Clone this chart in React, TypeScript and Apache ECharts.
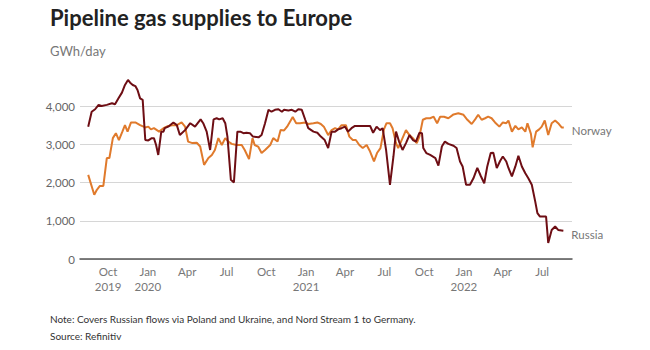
import React, { useEffect, useRef } from "react";
import * as echarts from "echarts";

const russiaDates = [
  "2019-08-16","2019-08-24","2019-09-01","2019-09-09","2019-09-16","2019-09-28","2019-10-10","2019-10-17","2019-10-25","2019-11-02",
  "2019-11-09","2019-11-16","2019-11-21","2019-11-27","2019-12-03","2019-12-08","2019-12-14","2019-12-20","2019-12-26","2020-01-02",
  "2020-01-10","2020-01-15","2020-01-20","2020-01-25","2020-02-01","2020-02-06","2020-02-09","2020-02-17","2020-02-29","2020-03-08",
  "2020-03-15","2020-03-27","2020-04-08","2020-04-19","2020-05-02","2020-05-08","2020-05-16","2020-05-24","2020-06-01","2020-06-08",
  "2020-06-14","2020-06-22","2020-06-28","2020-07-03","2020-07-11","2020-07-18","2020-07-26","2020-08-02","2020-08-09","2020-08-16",
  "2020-08-24","2020-08-31","2020-09-13","2020-09-20","2020-09-28","2020-10-06","2020-10-13","2020-10-21","2020-10-29","2020-11-06",
  "2020-11-11","2020-11-21","2020-11-29","2020-12-07","2020-12-14","2020-12-22","2020-12-30","2021-01-06","2021-01-18","2021-01-27",
  "2021-02-04","2021-02-13","2021-02-21","2021-03-01","2021-03-09","2021-03-16","2021-03-24","2021-04-01","2021-04-08","2021-04-16",
  "2021-04-24","2021-05-05","2021-05-17","2021-05-29","2021-06-05","2021-06-13","2021-06-21","2021-06-27","2021-07-05","2021-07-14",
  "2021-07-22","2021-07-28","2021-08-04","2021-08-12","2021-08-20","2021-08-28","2021-09-05","2021-09-12","2021-09-20","2021-09-26",
  "2021-09-29","2021-10-06","2021-10-15","2021-10-27","2021-11-03","2021-11-11","2021-11-18","2021-11-26","2021-12-08","2021-12-15",
  "2021-12-23","2021-12-29","2022-01-06","2022-01-15","2022-01-23","2022-02-01","2022-02-09","2022-02-17","2022-02-24","2022-03-04",
  "2022-03-10","2022-03-18","2022-03-26","2022-04-01","2022-04-09","2022-04-14","2022-04-22","2022-04-30","2022-05-07","2022-05-15",
  "2022-05-23","2022-05-30","2022-06-07","2022-06-15","2022-06-20","2022-06-26","2022-07-04","2022-07-10","2022-07-15","2022-07-23",
  "2022-07-31","2022-08-07","2022-08-19"
];
const russiaValues = [
  3460,3850,3915,4030,4000,4030,4070,4045,4200,4350,
  4550,4680,4610,4550,4520,4420,4200,4160,3110,3100,
  3160,3160,2980,2720,3330,3330,3420,3460,3570,3500,
  3240,3370,3550,3460,3650,3550,3330,2850,3650,3680,
  3650,3680,3550,3200,2070,2000,3330,3330,3290,3300,
  3290,3200,3180,3240,3550,3900,3850,3900,3915,3850,
  3900,3880,3900,3850,3915,3900,3640,3420,3330,3300,
  3200,3110,2900,3330,3330,3390,3420,3460,3330,3420,
  3480,3480,3480,3480,3300,3460,3370,3420,2850,1940,
  2680,3330,3070,2850,3030,3240,3110,3070,3300,3290,
  2900,2770,2720,2640,2440,2940,3070,3010,2960,2900,
  2550,2420,1940,1940,2110,2380,2170,1980,2420,2770,
  2780,2380,2570,2680,2550,2380,2160,2420,2700,2420,
  2240,2110,1940,1500,1200,1110,1110,1110,420,760,
  850,760,740
];

const norwayDates = [
  "2019-08-16","2019-08-30","2019-09-05","2019-09-12","2019-09-20","2019-09-28","2019-10-04","2019-10-12","2019-10-19","2019-10-26",
  "2019-11-03","2019-11-09","2019-11-15","2019-11-23","2019-12-03","2019-12-14","2019-12-26","2020-01-02","2020-01-08","2020-01-15",
  "2020-01-27","2020-02-06","2020-02-17","2020-02-29","2020-03-08","2020-03-19","2020-03-27","2020-04-03","2020-04-13","2020-04-23",
  "2020-05-01","2020-05-10","2020-05-20","2020-05-28","2020-06-04","2020-06-12","2020-06-20","2020-06-28","2020-07-05","2020-07-13",
  "2020-07-24","2020-08-05","2020-08-12","2020-08-22","2020-08-30","2020-09-04","2020-09-12","2020-09-20","2020-09-28","2020-10-10",
  "2020-10-17","2020-10-27","2020-11-03","2020-11-11","2020-11-18","2020-12-01","2020-12-09","2020-12-18","2020-12-30","2021-01-06",
  "2021-01-18","2021-01-27","2021-02-04","2021-02-11","2021-02-21","2021-03-01","2021-03-09","2021-03-16","2021-03-24","2021-04-03",
  "2021-04-11","2021-04-19","2021-04-26","2021-05-04","2021-05-12","2021-05-21","2021-05-29","2021-06-07","2021-06-14","2021-06-22",
  "2021-06-30","2021-07-06","2021-07-14","2021-07-20","2021-07-28","2021-08-02","2021-08-10","2021-08-20","2021-08-28","2021-09-05",
  "2021-09-14","2021-09-20","2021-09-28","2021-10-06","2021-10-15","2021-10-23","2021-10-31","2021-11-07","2021-11-16","2021-11-26",
  "2021-12-08","2021-12-19","2021-12-31","2022-01-09","2022-01-19","2022-01-27","2022-02-03","2022-02-11","2022-02-19","2022-02-26",
  "2022-03-06","2022-03-14","2022-03-24","2022-04-01","2022-04-09","2022-04-14","2022-04-22","2022-04-30","2022-05-07","2022-05-15",
  "2022-05-23","2022-05-28","2022-06-05","2022-06-09","2022-06-17","2022-06-24","2022-06-30","2022-07-07","2022-07-15","2022-07-23",
  "2022-07-31","2022-08-07","2022-08-15","2022-08-20"
];
const norwayValues = [
  2200,1680,1810,1910,1910,2640,2640,3160,3290,3110,
  3330,3500,3330,3570,3570,3500,3440,3460,3390,3420,
  3330,3420,3480,3500,3500,3570,3460,3070,3030,3040,
  2940,2460,2640,2720,2850,3160,2980,3160,3070,3010,
  2980,2980,2850,2610,3160,2980,2940,2770,2850,2980,
  3160,3070,3370,3360,3460,3710,3550,3550,3570,3530,
  3550,3570,3530,3460,3240,3370,3420,3390,3500,3500,
  3200,3110,3110,2980,2900,2980,2810,2550,2770,2900,
  3390,3550,3550,3420,3030,2900,3110,3370,3240,3160,
  3030,3200,3640,3680,3680,3720,3550,3720,3720,3680,
  3780,3810,3770,3640,3530,3650,3770,3640,3680,3720,
  3680,3570,3460,3570,3550,3620,3330,3480,3390,3440,
  3330,3550,3270,2920,3330,3390,3460,3620,3240,3550,
  3620,3550,3440,3440
];

const tickDates = [
  "2019-10-01","2020-01-01","2020-04-01","2020-07-01","2020-10-01","2021-01-01",
  "2021-04-01","2021-07-01","2021-10-01","2022-01-01","2022-04-01","2022-07-01"
];
const tickLabels = [
  "Oct\n2019","Jan\n2020","Apr","Jul","Oct","Jan\n2021",
  "Apr","Jul","Oct","Jan\n2022","Apr","Jul"
];
const xRange = ["2019-07-28", "2022-09-08"];
const yTicks = [0, 1000, 2000, 3000, 4000];

const FONT = "Lato, 'Noto Sans', sans-serif";

function toLocalTs(s: string): number {
  const [y, m, d] = s.split("-").map(Number);
  return new Date(y, m - 1, d).getTime();
}

export default function App() {
  const ref = useRef<HTMLDivElement>(null);
  useEffect(() => {
    if (!ref.current) return;
    const chart = echarts.init(ref.current, undefined, { renderer: "svg" });
    const tickTs = tickDates.map(toLocalTs);
    const labelFor = (v: number) => {
      let best = 0;
      let bd = Infinity;
      tickTs.forEach((t, i) => {
        const d = Math.abs(t - v);
        if (d < bd) { bd = d; best = i; }
      });
      return tickLabels[best];
    };
    chart.setOption({
      animation: false,
      backgroundColor: "#ffffff",
      textStyle: { fontFamily: FONT },
      grid: { left: 80, right: 78, top: 106, bottom: 91, containLabel: false },
      graphic: [
        {
          type: "text", left: 50, top: 6,
          style: { text: "Pipeline gas supplies to Europe", fontSize: 22, fontWeight: "bold", fontFamily: FONT, fill: "#222222" },
        },
        {
          type: "text", left: 50, top: 44,
          style: { text: "GWh/day", fontSize: 13, fontFamily: FONT, fill: "#777777" },
        },
        {
          type: "text", left: 50, top: 314,
          style: { text: "Note: Covers Russian flows via Poland and Ukraine, and Nord Stream 1 to Germany.", fontSize: 10, fontFamily: FONT, fill: "#333333" },
        },
        {
          type: "text", left: 50, top: 331,
          style: { text: "Source: Refinitiv", fontSize: 10, fontFamily: FONT, fill: "#333333" },
        },
      ],
      xAxis: {
        type: "value",
        min: toLocalTs(xRange[0]),
        max: toLocalTs(xRange[1]),
        axisLine: { show: true, onZero: false, lineStyle: { color: "#555555", width: 1.5 } },
        axisTick: { show: false },
        splitLine: { show: false },
        axisLabel: {
          customValues: tickTs,
          formatter: (v: number) => labelFor(v),
          color: "#777777",
          fontSize: 11.5,
          lineHeight: 15,
          margin: 5,
          fontFamily: FONT,
          showMinLabel: true,
          showMaxLabel: true,
          hideOverlap: false,
        },
      },
      yAxis: {
        type: "value",
        min: yTicks[0],
        max: yTicks[yTicks.length - 1],
        interval: 1000,
        axisLine: { show: false },
        axisTick: { show: false },
        splitLine: { show: true, lineStyle: { color: "#d6d6d6", width: 1 } },
        axisLabel: {
          color: "#666666",
          fontSize: 11.5,
          margin: 5,
          fontFamily: FONT,
          formatter: (v: number) => v.toLocaleString("en-US"),
        },
      },
      series: [
        {
          name: "Norway",
          type: "line",
          clip: false,
          showSymbol: false,
          symbol: "none",
          lineStyle: { color: "#e07a2c", width: 2 },
          itemStyle: { color: "#e07a2c" },
          data: norwayDates.map((d, i) => [toLocalTs(d), norwayValues[i]]),
          endLabel: { show: true, formatter: "{a}", color: "#777777", fontSize: 11.5, distance: 8, offset: [0, 3], fontFamily: FONT },
          z: 2,
        },
        {
          name: "Russia",
          type: "line",
          clip: false,
          showSymbol: false,
          symbol: "none",
          lineStyle: { color: "#6e0e14", width: 2 },
          itemStyle: { color: "#6e0e14" },
          data: russiaDates.map((d, i) => [toLocalTs(d), russiaValues[i]]),
          endLabel: { show: true, formatter: "{a}", color: "#777777", fontSize: 11.5, distance: 8, offset: [0, 4], fontFamily: FONT },
          z: 3,
        },
      ],
    });
    return () => chart.dispose();
  }, []);
  return <div ref={ref} style={{ position: "fixed", left: 0, top: 0, width: 650, height: 350 }} />;
}
